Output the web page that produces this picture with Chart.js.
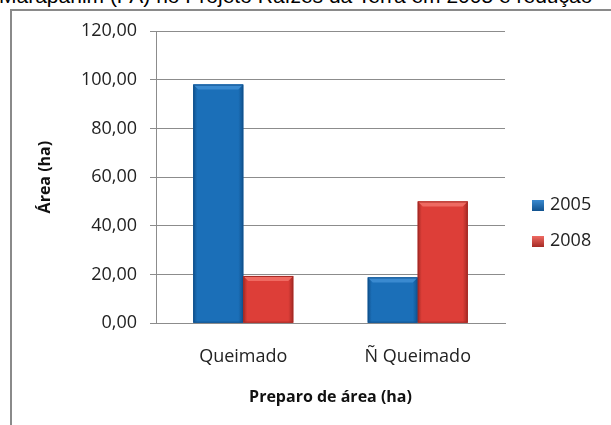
<!DOCTYPE html>
<html>
<head>
<meta charset="utf-8">
<script src="https://cdn.jsdelivr.net/npm/chart.js@4/dist/chart.umd.min.js"></script>
<style>
  body { margin: 0; background: #fff; overflow: hidden; }
  #wrap { position: relative; width: 611px; height: 425px; overflow: hidden; }
  #caption { position: absolute; left: -1px; top: -15px; font: 21px "Liberation Sans", Arial, sans-serif; line-height: 21px; color: #000; white-space: nowrap; }
  #frame { position: absolute; left: 10px; top: 9px; width: 700px; height: 500px; border: 2px solid #8a8a8a; }
  #chart { position: absolute; left: 0; top: 0; }
  #legend { position: absolute; left: 532px; top: 190px; font: 18px "Open Sans", sans-serif; color: #222; }
  #legend div { height: 36px; line-height: 26px; }
  #legend span.box { display: inline-block; width: 12px; height: 11px; margin-right: 6px; vertical-align: -1px; }
</style>
</head>
<body>
<div id="wrap">
  <div id="caption">Marapanim (PA) no Projeto Raízes da Terra em 2005 e redução</div>
  <div id="frame"></div>
  <canvas id="chart" width="611" height="425"></canvas>
  <div id="legend"></div>
</div>
<script>
var categories = ['Queimado', 'Ñ Queimado'];
var seriesNames = ['2005', '2008'];
var values2005 = [98.0, 18.8];
var values2008 = [19.4, 50.0];
var yTickLabels = ['0,00', '20,00', '40,00', '60,00', '80,00', '100,00', '120,00'];

var fills = [
  { mid: '#1b6fb8', edge: '#11528e', light: '#3a8ad0' },
  { mid: '#dd3e38', edge: '#a52a25', light: '#ef6a62' }
];

// bevel look for each bar, painted over the bars drawn by chart.js
var bevel = {
  id: 'bevel',
  afterDatasetsDraw: function(chart) {
    var ctx = chart.ctx;
    chart.data.datasets.forEach(function(ds, di) {
      var meta = chart.getDatasetMeta(di);
      var c = fills[di];
      meta.data.forEach(function(bar) {
        var l = bar.x - bar.width / 2, r = bar.x + bar.width / 2;
        var t = bar.y, b = bar.base;
        var g = ctx.createLinearGradient(l, 0, r, 0);
        g.addColorStop(0, c.edge);
        g.addColorStop(0.08, c.mid);
        g.addColorStop(0.9, c.mid);
        g.addColorStop(1, c.edge);
        ctx.save();
        ctx.fillStyle = g;
        ctx.fillRect(l, t, r - l, b - t);
        // top bevel
        ctx.fillStyle = c.light;
        ctx.beginPath();
        ctx.moveTo(l, t); ctx.lineTo(r, t); ctx.lineTo(r - 5, t + 5); ctx.lineTo(l + 5, t + 5);
        ctx.closePath(); ctx.fill();
        ctx.strokeStyle = c.edge;
        ctx.lineWidth = 1;
        ctx.strokeRect(l + 0.5, t + 0.5, r - l - 1, b - t - 1);
        ctx.restore();
      });
    });
  }
};

var config = {
  type: 'bar',
  data: {
    labels: categories,
    datasets: [
      { label: seriesNames[0], data: values2005, backgroundColor: fills[0].mid },
      { label: seriesNames[1], data: values2008, backgroundColor: fills[1].mid }
    ]
  },
  options: {
    responsive: false,
    animation: false,
    barPercentage: 1,
    categoryPercentage: 0.573,
    layout: { padding: { left: 30, top: 31, right: 106, bottom: 18 } },
    plugins: { legend: { display: false }, tooltip: { enabled: false } },
    scales: {
      x: {
        grid: { display: false, drawTicks: false },
        border: { display: true, color: '#8c8c8c' },
        ticks: { padding: 23, color: '#222', font: { family: 'Open Sans', size: 18 } },
        title: { display: true, text: 'Preparo de área (ha)', color: '#111', padding: { top: -3, bottom: 0 },
                 font: { family: 'Open Sans', size: 16, weight: 'bold' } }
      },
      y: {
        min: 0, max: 120,
        ticks: { stepSize: 20, padding: 13, color: '#222', font: { family: 'Open Sans', size: 18 },
                 callback: function(v, i) { return yTickLabels[i]; } },
        grid: { color: '#8c8c8c', tickLength: 6 },
        border: { display: true, color: '#8c8c8c' },
        title: { display: true, text: 'Área (ha)', color: '#111', padding: { top: 6, bottom: 0 },
                 font: { family: 'Open Sans', size: 16, weight: 'bold' } },
        afterFit: function(scale) { scale.width = 126; }
      }
    }
  },
  plugins: [bevel]
};

var ctx = document.getElementById('chart').getContext('2d');
window.myBar = new Chart(ctx, config);

var legend = document.getElementById('legend');
seriesNames.forEach(function(name, i) {
  var row = document.createElement('div');
  row.innerHTML = '<span class="box" style="background:linear-gradient(' + fills[i].light + ',' + fills[i].edge + ')"></span>' + name;
  legend.appendChild(row);
});
</script>
</body>
</html>
